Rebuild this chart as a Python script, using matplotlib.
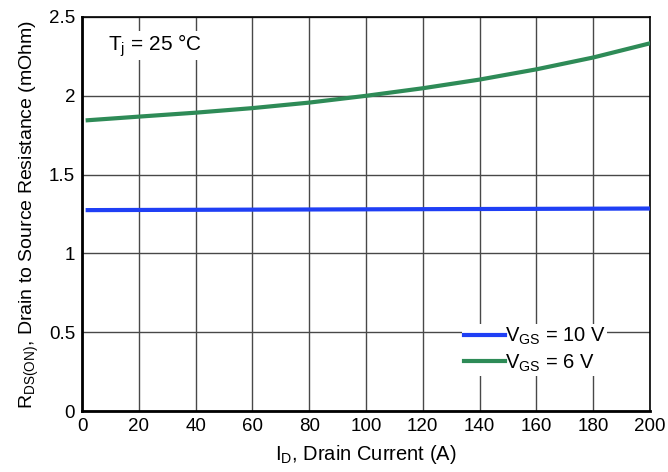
import numpy as np
from matplotlib import pyplot as plt

plt.rcParams['font.family'] = ['Liberation Sans', 'DejaVu Sans']
plt.rcParams['mathtext.fontset'] = 'custom'
plt.rcParams['mathtext.rm'] = 'Liberation Sans'
plt.rcParams['mathtext.it'] = 'Liberation Sans'

# drain current (A)
current = [2, 20, 40, 60, 80, 100, 120, 140, 160, 180, 200]
# on-resistance (mOhm)
r_vgs10 = [1.275, 1.276, 1.277, 1.278, 1.279, 1.280, 1.281, 1.282, 1.283, 1.284, 1.285]
r_vgs6 = [1.845, 1.868, 1.893, 1.922, 1.957, 2.0, 2.048, 2.103, 2.168, 2.243, 2.333]

xticks = [0, 20, 40, 60, 80, 100, 120, 140, 160, 180, 200]
yticks = [0, 0.5, 1, 1.5, 2, 2.5]
ytick_labels = ['0', '0.5', '1', '1.5', '2', '2.5']

fig = plt.figure(figsize=(6.68, 4.72), dpi=100)
ax = fig.add_axes([0.1228, 0.129, 0.8502, 0.835])

ax.plot(current, r_vgs10, color='#1f3ff5', lw=3, label='V$_{\\mathrm{GS}}$ = 10 V', zorder=3)
ax.plot(current, r_vgs6, color='#2e8b57', lw=3, label='V$_{\\mathrm{GS}}$ = 6 V', zorder=3)

ax.set_xlim(0, 200)
ax.set_ylim(0, 2.5)
ax.set_xticks(xticks)
ax.set_yticks(yticks)
ax.set_yticklabels(ytick_labels)
ax.tick_params(length=0, labelsize=13.5, pad=5)
ax.grid(True, color='#484848', lw=1)
ax.set_axisbelow(True)

for s in ['left', 'bottom']:
    ax.spines[s].set_linewidth(2)
for s in ['top', 'right']:
    ax.spines[s].set_linewidth(1.2)

ax.set_xlabel('I$_{\\mathrm{D}}$, Drain Current (A)', fontsize=14.5, labelpad=6)
ax.set_ylabel('R$_{\\mathrm{DS(ON)}}$, Drain to Source Resistance (mOhm)', fontsize=14, labelpad=6)

ax.text(9, 2.32, 'T$_{\\mathrm{j}}$ = 25 °C', fontsize=15, va='center',
        bbox=dict(facecolor='white', edgecolor='none', pad=1))

leg = ax.legend(loc='lower right', bbox_to_anchor=(0.925, 0.09), frameon=True,
                fontsize=14.5, handlelength=2.0, handletextpad=0.0,
                labelspacing=0.25, borderpad=0.1, borderaxespad=0)
leg.get_frame().set_edgecolor('none')
leg.get_frame().set_facecolor('white')
leg.get_frame().set_alpha(1)

fig.savefig('out.png', dpi=100)
